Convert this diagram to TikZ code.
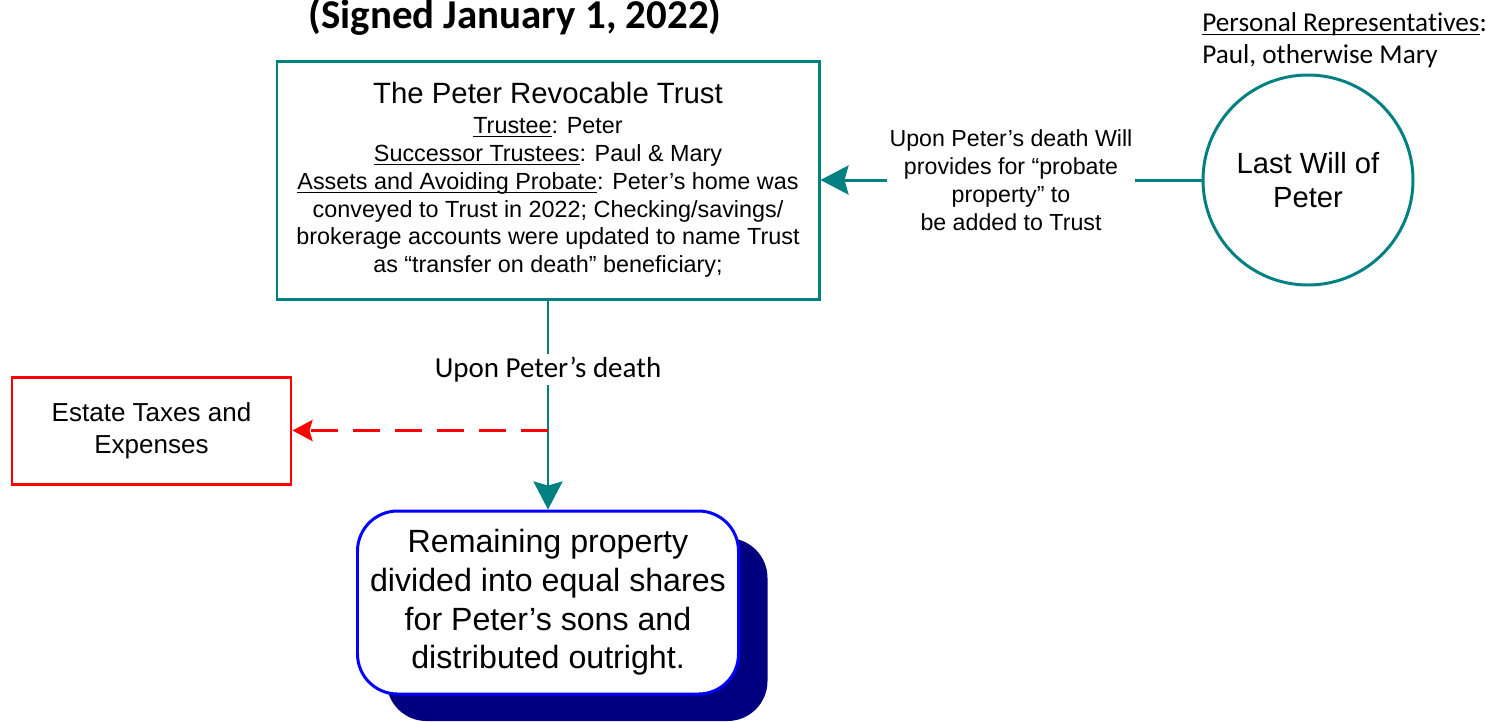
\documentclass[tikz,border=0pt]{standalone}
\usepackage{fontspec}
\setmainfont{Liberation Sans}
\newfontfamily\calibrifont[Ligatures=NoCommon]{Carlito}
\usetikzlibrary{arrows.meta,positioning,shadows}
\definecolor{trustteal}{RGB}{0,128,128}
\definecolor{shadownavy}{RGB}{0,0,128}
\newcommand{\ulword}[1]{\setbox0\hbox{#1}\rlap{\rule[-2.2pt]{\wd0}{0.6pt}}\box0}

\begin{document}
\begin{tikzpicture}[
    trustbox/.style={rectangle, draw=trustteal, line width=1.7pt, minimum width=10.84cm, minimum height=4.76cm, align=center, font=\fontsize{13.3}{15.9}\selectfont},
    willcircle/.style={circle, draw=trustteal, line width=1.7pt, minimum size=4.2cm, align=center, font=\fontsize{16.6}{19.3}\selectfont},
    costbox/.style={rectangle, draw=red, line width=1.7pt, minimum width=5.58cm, minimum height=2.14cm, align=center, font=\fontsize{14.8}{18}\selectfont},
    sharebox/.style={rectangle, rounded corners=0.8cm, draw=blue, fill=white, line width=1.7pt, minimum width=7.62cm, minimum height=3.66cm, align=center, font=\fontsize{18.3}{22}\selectfont, drop shadow={shadow xshift=0.58cm, shadow yshift=-0.54cm, fill=shadownavy, opacity=1}},
    linetext/.style={fill=white, text=black, inner sep=1.5pt, align=center},
    arrow/.style={-{Stealth[length=0.56cm, width=0.58cm, inset=0.08cm]}, trustteal, line width=1.7pt},
    costarrow/.style={-{Stealth[length=0.4cm, width=0.42cm, inset=0.06cm]}, red, line width=1.7pt, dash pattern=on 0.54cm off 0.3cm}
]
    \useasboundingbox (0,0) rectangle (29.72,-14.42);

    % Title
    \node[anchor=base, font=\calibrifont\bfseries\fontsize{23.3}{28}\selectfont] (title) at (10.3,-0.57) {(Signed January 1, 2022)};

    % Trust
    \node[trustbox] (trust) at (10.96,-3.6) {{\fontsize{16.7}{17}\selectfont The Peter Revocable Trust}\\[1pt]
        \ulword{Trustee}: Peter\\
        \ulword{Successor Trustees}: Paul \& Mary\\
        \ulword{Assets and Avoiding Probate}: Peter’s home was\\
        conveyed to Trust in 2022; Checking/savings/\\
        brokerage accounts were updated to name Trust\\
        as “transfer on death” beneficiary;};

    % Will
    \node[willcircle] (will) at (26.16,-3.6) {Last Will of\\Peter};
    \node[anchor=north west, inner sep=0, align=left, font=\calibrifont\fontsize{15.5}{18.6}\selectfont] (reps) at (24.04,-0.24) {\ulword{Personal Representatives}:\\Paul, otherwise Mary};

    % Estate taxes
    \node[costbox] (costs) at (3.03,-8.61) {Estate Taxes and\\Expenses};

    % Remaining property
    \node[sharebox] (shares) at (10.96,-12.05) {Remaining property\\divided into equal shares\\for Peter’s sons and\\distributed outright.};

    % Arrows
    \draw[arrow] (will) -- node[linetext, font=\fontsize{13.2}{16}\selectfont] (willtext) {Upon Peter’s death Will\\provides for “probate\\property” to\\be added to Trust} (trust);
    \draw[arrow] (trust) -- node[linetext, pos=0.33, font=\calibrifont\fontsize{16.5}{19}\selectfont] (deathtext) {Upon Peter’s death} (shares);
    \coordinate (split) at (trust.south |- costs.east);
    \draw[costarrow] (split) -- (costs);

\end{tikzpicture}
\end{document}
